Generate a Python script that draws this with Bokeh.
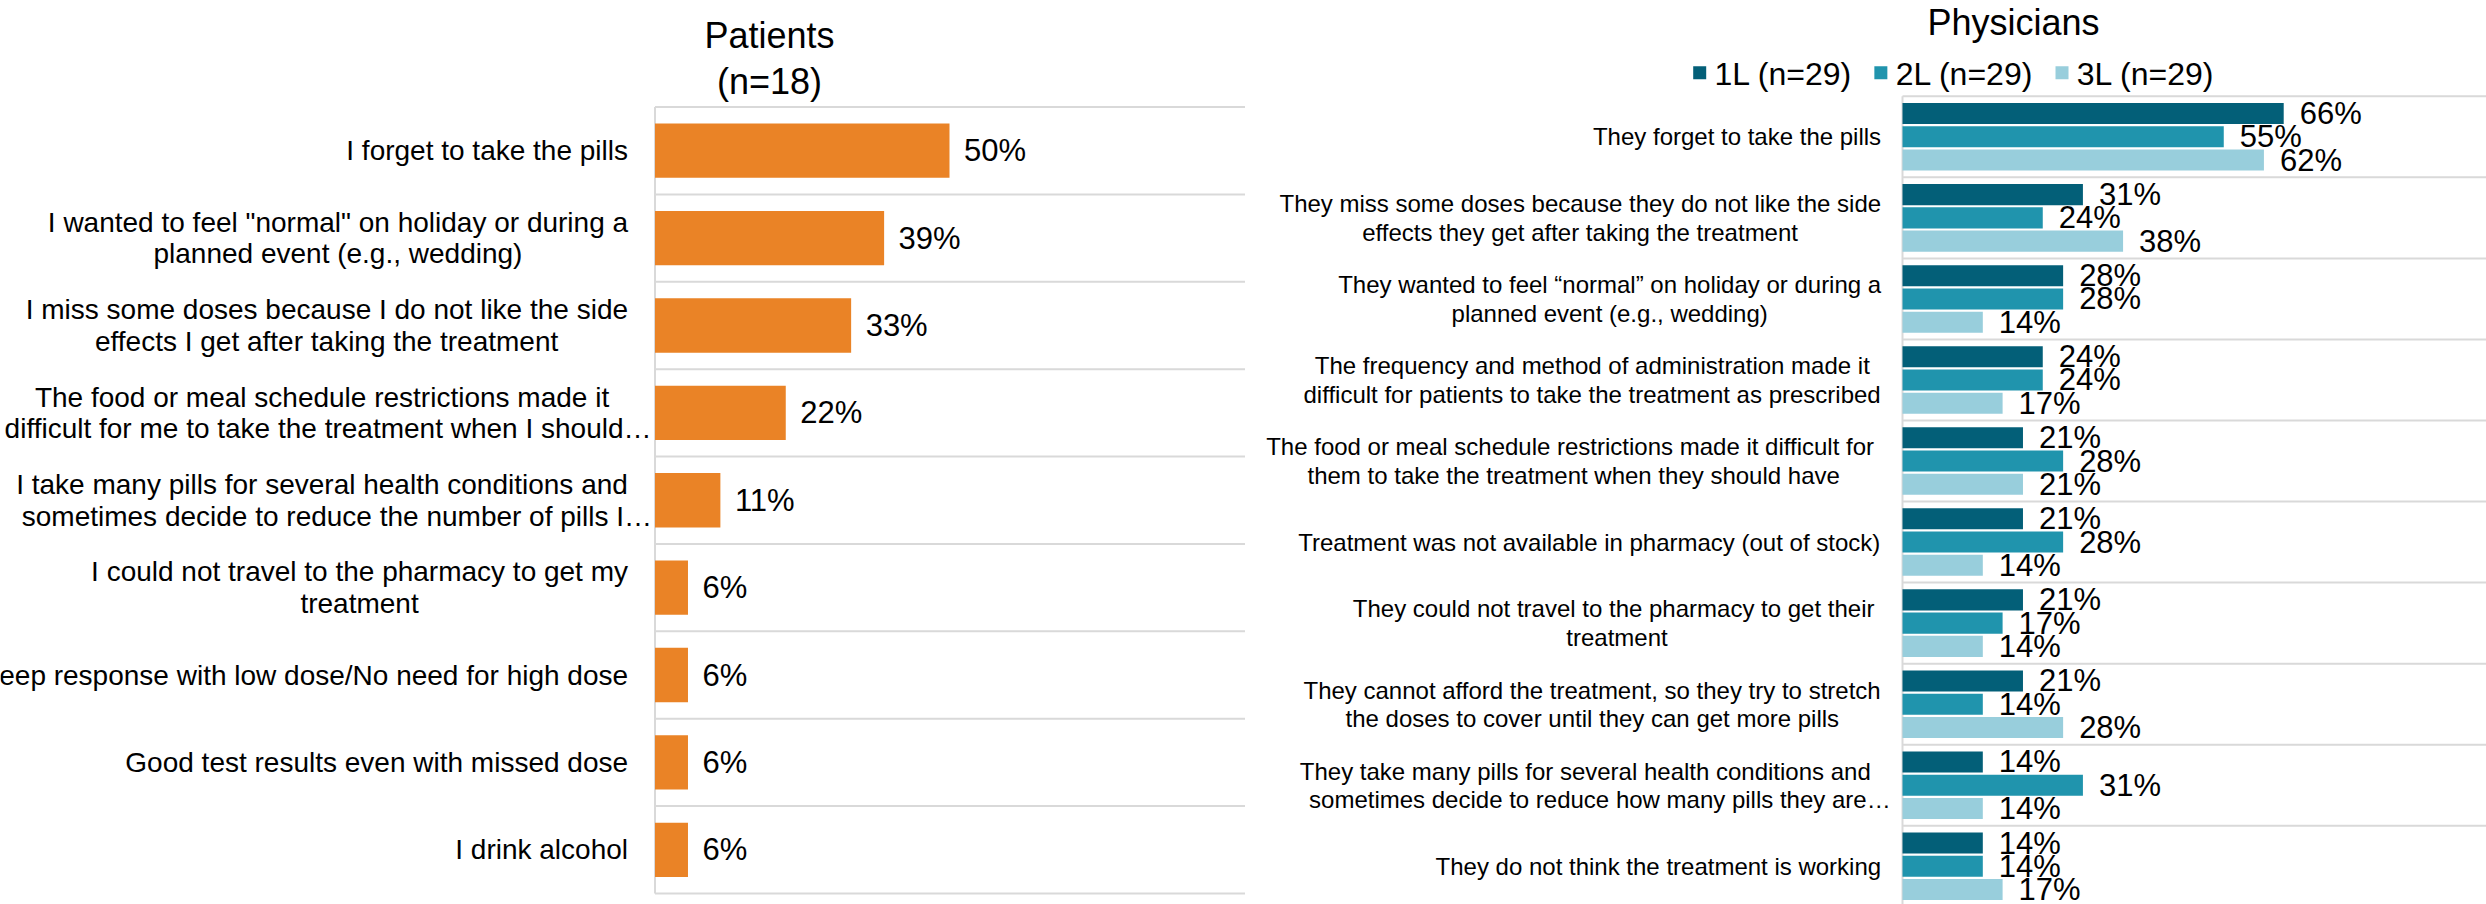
import numpy as np
from bokeh.plotting import figure
from bokeh.layouts import row
from bokeh.models import Range1d
from bokeh.core.properties import value
from bokeh.embed import file_html
from bokeh.resources import INLINE

# ---------------- data ----------------
patient_title = ["Patients", "(n=18)"]
patient_reasons = [
    "I forget to take the pills",
    "I wanted to feel \"normal\" on holiday or during a\nplanned event (e.g., wedding)",
    "I miss some doses because I do not like the side\neffects I get after taking the treatment",
    "The food or meal schedule restrictions made it\ndifficult for me to take the treatment when I should…",
    "I take many pills for several health conditions and\nsometimes decide to reduce the number of pills I…",
    "I could not travel to the pharmacy to get my\ntreatment",
    "Keep response with low dose/No need for high dose",
    "Good test results even with missed dose",
    "I drink alcohol",
]
patient_pct = [50.0, 38.9, 33.3, 22.2, 11.1, 5.6, 5.6, 5.6, 5.6]

physician_title = "Physicians"
physician_reasons = [
    "They forget to take the pills",
    "They miss some doses because they do not like the side\neffects they get after taking the treatment",
    "They wanted to feel \u201cnormal\u201d on holiday or during a\nplanned event (e.g., wedding)",
    "The frequency and method of administration made it\ndifficult for patients to take the treatment as prescribed",
    "The food or meal schedule restrictions made it difficult for \nthem to take the treatment when they should have",
    "Treatment was not available in pharmacy (out of stock)",
    "They could not travel to the pharmacy to get their \ntreatment",
    "They cannot afford the treatment, so they try to stretch\nthe doses to cover until they can get more pills",
    "They take many pills for several health conditions and \nsometimes decide to reduce how many pills they are…",
    "They do not think the treatment is working",
]
series_names = ["1L (n=29)", "2L (n=29)", "3L (n=29)"]
pct_1L = [65.5, 31.0, 27.6, 24.1, 20.7, 20.7, 20.7, 20.7, 13.8, 13.8]
pct_2L = [55.2, 24.1, 27.6, 24.1, 27.6, 27.6, 17.2, 13.8, 31.0, 13.8]
pct_3L = [62.1, 37.9, 13.8, 17.2, 20.7, 13.8, 13.8, 27.6, 13.8, 17.2]

# ---------------- styles ----------------
FONT = value("Liberation Sans")
ORANGE = "#EA8326"
TEALS = ["#035F78", "#2094AD", "#98CEDC"]
GRID = "#D9D9D9"
TXT = "#000000"

# Arial / Liberation Sans advance widths (per 1000 em)
AW = {" ": 278, "!": 278, "\"": 355, "%": 889, "'": 191, "(": 333, ")": 333, ",": 278,
      "-": 333, ".": 278, "/": 278, ":": 278, "=": 584, "\u201c": 333, "\u201d": 333, "\u2026": 1000}
for c in "0123456789":
    AW[c] = 556
AW.update(dict(zip("ABCDEFGHIJKLMNOPQRSTUVWXYZ",
                   [667, 667, 722, 722, 667, 611, 778, 722, 278, 500, 667, 556, 833, 722, 778,
                    667, 778, 722, 667, 611, 722, 667, 944, 667, 667, 611])))
AW.update(dict(zip("abcdefghijklmnopqrstuvwxyz",
                   [556, 556, 500, 556, 556, 278, 556, 556, 222, 222, 500, 222, 833, 556, 556,
                    556, 556, 333, 500, 278, 556, 500, 722, 500, 500, 500])))


def text_w(s, size):
    return sum(AW.get(c, 556) for c in s) * size / 1000.0


class Panel:
    def __init__(self, width, height, axis_px, ppu, top_px, band_px, n):
        self.ppu, self.band, self.axis_px = ppu, band_px, axis_px
        self.t = -0.5 - top_px / band_px
        b = self.t + height / band_px
        self.n = n
        p = figure(width=width, height=height,
                   x_range=Range1d(-axis_px / ppu, (width - axis_px) / ppu),
                   y_range=Range1d(b, self.t),
                   x_axis_location=None, y_axis_location=None,
                   toolbar_location=None, output_backend="svg",
                   min_border=0, min_border_left=0, min_border_right=0,
                   min_border_top=0, min_border_bottom=0)
        p.outline_line_color = None
        p.background_fill_color = "white"
        p.border_fill_color = "white"
        p.grid.grid_line_color = None
        self.p = p

    def fx(self, px):   # figure px (from left) -> data x
        return (px - self.axis_px) / self.ppu

    def fy(self, py):   # figure px (from top) -> data y
        return self.t + py / self.band

    def frame_lines(self):
        p = self.p
        bounds = [i - 0.5 for i in range(self.n + 1)]
        p.segment(x0=[0] * len(bounds), x1=[p.x_range.end] * len(bounds), y0=bounds, y1=bounds,
                  line_color=GRID, line_width=2)
        p.segment(x0=[0], x1=[0], y0=[-0.5], y1=[self.n - 0.5], line_color=GRID, line_width=2)

    def cat_labels(self, labels, size, anchor_gap, lh, box_max, ell_shift):
        xs, ys, tx = [], [], []
        anchor = self.axis_px - anchor_gap
        for i, lab in enumerate(labels):
            lines = lab.split("\n")
            widths = [text_w(l, size) for l in lines]
            trunc = any(l.endswith("\u2026") for l in lines)
            box = box_max if trunc else max(widths)
            center = anchor - box / 2.0
            for k, (l, w) in enumerate(zip(lines, widths)):
                left = (anchor + ell_shift - w) if l.endswith("\u2026") else (center - w / 2.0)
                dy = (k - (len(lines) - 1) / 2.0) * lh
                xs.append(self.fx(left))
                ys.append(i + dy / self.band)
                tx.append(l.rstrip())
        self.p.text(x=xs, y=ys, text=tx, text_font=FONT, text_font_size=f"{size}px",
                    text_align="left", text_baseline="middle", text_color=TXT)

    def value_labels(self, vals, ys, gap_px, size):
        self.p.text(x=[v + gap_px / self.ppu for v in vals], y=ys,
                    text=[f"{round(v):d}%" for v in vals], text_font=FONT,
                    text_font_size=f"{size}px", text_align="left", text_baseline="middle",
                    text_color=TXT)


# Bokeh's page template has no body margin: figures start at page (0, 0)
OX_L, OX_R, OY = 0, 1245, 0
H = 904

# ---------------- left: patients ----------------
L = Panel(1245, H, 654.5 - OX_L, 5.89, 106.5 - OY, 87.39, len(patient_reasons))
L.frame_lines()
idx_p = list(range(len(patient_reasons)))
L.p.hbar(y=idx_p, left=0, right=patient_pct, height=0.622, fill_color=ORANGE, line_color=None)
L.value_labels(patient_pct, idx_p, 14.5, 31)
L.cat_labels(patient_reasons, 28, 27, 31.7, 612, 24)
L.p.text(x=[L.fx(769 - OX_L)] * 2, y=[L.fy(35 - OY), L.fy(80.5 - OY)], text=patient_title,
         text_font=FONT, text_font_size="36px", text_align="center", text_baseline="middle",
         text_color=TXT)

# ---------------- right: physicians ----------------
R = Panel(1241, H, 1902 - OX_R, 5.82, 95.8 - OY, 81.05, len(physician_reasons))
R.frame_lines()
idx_d = np.arange(len(physician_reasons))
offsets = [-0.287, 0.0, 0.287]
for vals, off, col in zip([pct_1L, pct_2L, pct_3L], offsets, TEALS):
    ys = list(idx_d + off)
    R.p.hbar(y=ys, left=0, right=vals, height=0.26, fill_color=col, line_color=None)
for vals, off in zip([pct_1L, pct_2L, pct_3L], offsets):
    R.value_labels(vals, list(idx_d + off), 16, 31)
R.cat_labels(physician_reasons, 24, 21.4, 28.3, 585, 9.5)
R.p.text(x=[R.fx(2013 - OX_R)], y=[R.fy(21.7 - OY)], text=[physician_title],
         text_font=FONT, text_font_size="36px", text_align="center", text_baseline="middle",
         text_color=TXT)

# legend (manual)
leg_x = 1692.7 - OX_R
sq, gap1, gap2, lsize = 13, 8.3, 22, 32
sx, tx_ = [], []
cur = leg_x
for name in series_names:
    sx.append(R.fx(cur + sq / 2.0))
    tx_.append(R.fx(cur + sq + gap1))
    cur += sq + gap1 + text_w(name, lsize) + gap2
R.p.scatter(x=sx, y=[R.fy(72.3 - OY)] * 3, marker="square", size=sq, fill_color=TEALS,
            line_color=None)
R.p.text(x=tx_, y=[R.fy(73 - OY)] * 3, text=series_names, text_font=FONT,
         text_font_size=f"{lsize}px", text_align="left", text_baseline="middle", text_color=TXT)

layout = row(L.p, R.p, spacing=0)
open("out.html", "w").write(file_html(layout, INLINE))
